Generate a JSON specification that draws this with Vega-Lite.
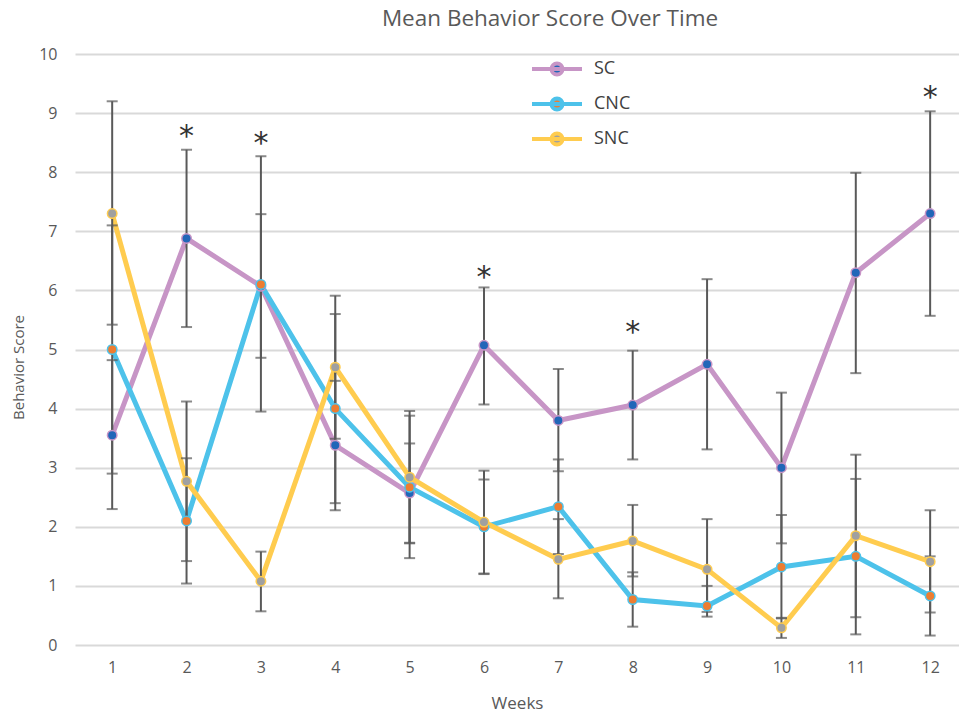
{
  "$schema": "https://vega.github.io/schema/vega-lite/v6.json",
  "width": 884,
  "height": 591,
  "autosize": "none",
  "padding": {"left": 75, "top": 54, "right": 0, "bottom": 68},
  "background": "white",
  "title": {"text": "Mean Behavior Score Over Time", "fontSize": 22.5, "font": "Open Sans", "fontWeight": "normal", "color": "#595959", "anchor": "middle", "frame": "group", "dx": 33, "baseline": "bottom", "offset": -7},
  "config": {"view": {"stroke": null}, "font": "Open Sans"},
  "datasets": {
    "scores": [
      {"series": "SC", "week": 1, "mean": 3.55, "lo": 2.30, "hi": 4.82},
      {"series": "SC", "week": 2, "mean": 6.88, "lo": 5.38, "hi": 8.38},
      {"series": "SC", "week": 3, "mean": 6.07, "lo": 4.86, "hi": 7.29},
      {"series": "SC", "week": 4, "mean": 3.38, "lo": 2.28, "hi": 4.47},
      {"series": "SC", "week": 5, "mean": 2.57, "lo": 1.73, "hi": 3.41},
      {"series": "SC", "week": 6, "mean": 5.07, "lo": 4.07, "hi": 6.05},
      {"series": "SC", "week": 7, "mean": 3.80, "lo": 2.94, "hi": 4.67},
      {"series": "SC", "week": 8, "mean": 4.06, "lo": 3.14, "hi": 4.98},
      {"series": "SC", "week": 9, "mean": 4.75, "lo": 3.31, "hi": 6.19},
      {"series": "SC", "week": 10, "mean": 3.00, "lo": 1.72, "hi": 4.27},
      {"series": "SC", "week": 11, "mean": 6.30, "lo": 4.60, "hi": 7.99},
      {"series": "SC", "week": 12, "mean": 7.30, "lo": 5.57, "hi": 9.03},
      {"series": "CNC", "week": 1, "mean": 5.00, "lo": 2.90, "hi": 7.10},
      {"series": "CNC", "week": 2, "mean": 2.10, "lo": 1.04, "hi": 3.16},
      {"series": "CNC", "week": 3, "mean": 6.10, "lo": 3.95, "hi": 8.27},
      {"series": "CNC", "week": 4, "mean": 4.00, "lo": 2.40, "hi": 5.60},
      {"series": "CNC", "week": 5, "mean": 2.67, "lo": 1.47, "hi": 3.88},
      {"series": "CNC", "week": 6, "mean": 2.00, "lo": 1.20, "hi": 2.80},
      {"series": "CNC", "week": 7, "mean": 2.34, "lo": 1.54, "hi": 3.14},
      {"series": "CNC", "week": 8, "mean": 0.77, "lo": 0.31, "hi": 1.23},
      {"series": "CNC", "week": 9, "mean": 0.66, "lo": 0.48, "hi": 1.00},
      {"series": "CNC", "week": 10, "mean": 1.32, "lo": 0.45, "hi": 2.20},
      {"series": "CNC", "week": 11, "mean": 1.50, "lo": 0.18, "hi": 2.81},
      {"series": "CNC", "week": 12, "mean": 0.83, "lo": 0.16, "hi": 1.50},
      {"series": "SNC", "week": 1, "mean": 7.30, "lo": 5.42, "hi": 9.20},
      {"series": "SNC", "week": 2, "mean": 2.77, "lo": 1.42, "hi": 4.12},
      {"series": "SNC", "week": 3, "mean": 1.08, "lo": 0.57, "hi": 1.58},
      {"series": "SNC", "week": 4, "mean": 4.70, "lo": 3.49, "hi": 5.91},
      {"series": "SNC", "week": 5, "mean": 2.84, "lo": 1.72, "hi": 3.96},
      {"series": "SNC", "week": 6, "mean": 2.08, "lo": 1.21, "hi": 2.95},
      {"series": "SNC", "week": 7, "mean": 1.45, "lo": 0.79, "hi": 2.13},
      {"series": "SNC", "week": 8, "mean": 1.76, "lo": 1.16, "hi": 2.37},
      {"series": "SNC", "week": 9, "mean": 1.28, "lo": 0.56, "hi": 2.13},
      {"series": "SNC", "week": 10, "mean": 0.29, "lo": 0.12, "hi": 0.46},
      {"series": "SNC", "week": 11, "mean": 1.85, "lo": 0.47, "hi": 3.22},
      {"series": "SNC", "week": 12, "mean": 1.41, "lo": 0.55, "hi": 2.28}
    ],
    "stars": [
      {"week": 2, "y": 8.71},
      {"week": 3, "y": 8.6},
      {"week": 6, "y": 6.32},
      {"week": 8, "y": 5.39},
      {"week": 12, "y": 9.37}
    ]
  },
  "data": {"name": "scores"},
  "layer": [
    {
      "mark": {"type": "line", "strokeWidth": 5},
      "encoding": {
        "x": {"field": "week", "type": "quantitative", "scale": {"domain": [0.5, 12.388], "nice": false, "zero": false},
              "axis": {"values": [1,2,3,4,5,6,7,8,9,10,11,12], "format": "d", "grid": false, "domain": false, "ticks": false, "tickSize": 0, "labelPadding": 14, "labelFontSize": 16, "labelColor": "#595959", "labelFont": "Open Sans", "title": "Weeks", "titleFontSize": 17, "titleFontWeight": "normal", "titleColor": "#595959", "titleFont": "Open Sans", "titlePadding": 20}},
        "y": {"field": "mean", "type": "quantitative", "scale": {"domain": [0, 10], "nice": false},
              "axis": {"values": [0,1,2,3,4,5,6,7,8,9,10], "format": "d", "grid": true, "gridColor": "#d9d9d9", "gridWidth": 2, "domain": false, "ticks": false, "tickSize": 0, "labelPadding": 18, "labelFontSize": 16, "labelColor": "#595959", "labelFont": "Open Sans", "title": "Behavior Score", "titleFontSize": 15, "titleFontWeight": "normal", "titleColor": "#595959", "titleFont": "Open Sans", "titlePadding": 12, "titleY": 313}},
        "color": {"field": "series", "type": "nominal", "sort": ["SC", "CNC", "SNC"],
                  "scale": {"domain": ["SC", "CNC", "SNC"], "range": ["#C795C6", "#4DC2EA", "#FFCC4F"]},
                  "legend": {"orient": "none", "legendX": 470, "legendY": 3, "title": null, "symbolType": "M-2.5,0L2.5,0M0.55,0A0.55,0.55,0,1,1,-0.55,0A0.55,0.55,0,1,1,0.55,0Z", "symbolSize": 400, "symbolStrokeWidth": 4, "labelFontSize": 18, "labelColor": "#404040", "labelFont": "Open Sans", "labelOffset": 25, "rowPadding": 7,
                             "encode": {"symbols": {"update": {"fill": {"scale": "fill", "field": "value"}, "stroke": {"scale": "color", "field": "value"}, "strokeWidth": {"value": 4}, "opacity": {"value": 1}}}}}
                 }
      }
    },
    {
      "mark": {"type": "rule", "strokeWidth": 2, "color": "#595959"},
      "encoding": {
        "x": {"field": "week", "type": "quantitative"},
        "y": {"field": "lo", "type": "quantitative"},
        "y2": {"field": "hi"}
      }
    },
    {
      "mark": {"type": "tick", "orient": "horizontal", "size": 11, "thickness": 2, "color": "#595959"},
      "encoding": {
        "x": {"field": "week", "type": "quantitative"},
        "y": {"field": "lo", "type": "quantitative"}
      }
    },
    {
      "mark": {"type": "tick", "orient": "horizontal", "size": 11, "thickness": 2, "color": "#595959"},
      "encoding": {
        "x": {"field": "week", "type": "quantitative"},
        "y": {"field": "hi", "type": "quantitative"}
      }
    },
    {
      "mark": {"type": "point", "filled": true, "size": 90, "strokeWidth": 1.5, "opacity": 1},
      "encoding": {
        "x": {"field": "week", "type": "quantitative"},
        "y": {"field": "mean", "type": "quantitative"},
        "fill": {"field": "series", "type": "nominal", "scale": {"domain": ["SC", "CNC", "SNC"], "range": ["#2166B8", "#ED7D31", "#A0A0A0"]}, "legend": null},
        "stroke": {"field": "series", "type": "nominal", "scale": {"domain": ["SC", "CNC", "SNC"], "range": ["#C795C6", "#4DC2EA", "#FFCC4F"]}, "legend": null}
      }
    },
    {
      "data": {"name": "stars"},
      "mark": {"type": "text", "text": "*", "fontSize": 30, "color": "#333333", "baseline": "middle", "dy": 7, "font": "DejaVu Sans"},
      "encoding": {
        "x": {"field": "week", "type": "quantitative"},
        "y": {"field": "y", "type": "quantitative"}
      }
    }
  ]
}
